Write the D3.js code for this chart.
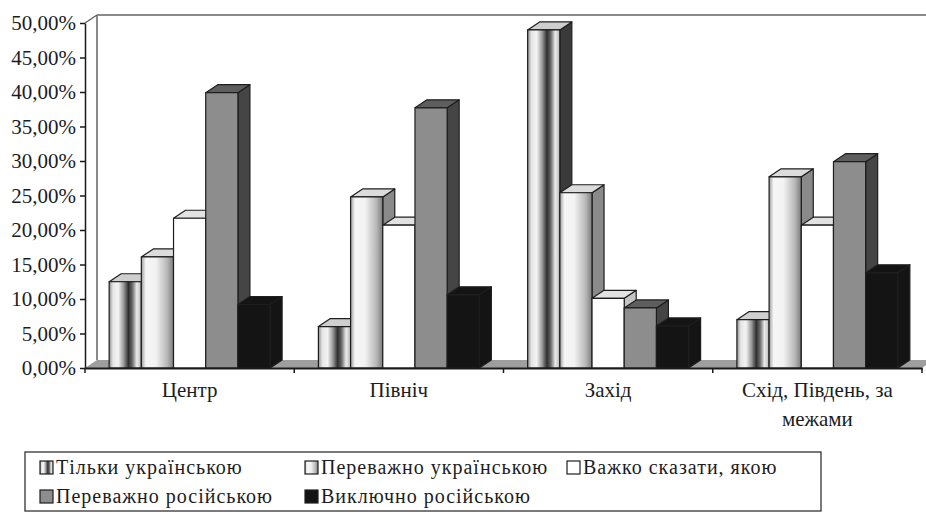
<!DOCTYPE html>
<html>
<head>
<meta charset="utf-8">
<script src="https://cdn.jsdelivr.net/npm/d3@7"></script>
<style>
  body { margin: 0; background: #fff; }
  svg { display: block; }
  svg text { fill: #1c1c1c; }
</style>
</head>
<body>
<svg id="chart" width="926" height="515"></svg>
<script>
// ---- data -------------------------------------------------------------
const categories = ["Центр", "Північ", "Захід", "Схід, Південь, за межами"];
const seriesNames = [
  "Тільки українською",
  "Переважно українською",
  "Важко сказати, якою",
  "Переважно російською",
  "Виключно російською"
];
const onlyUkrainian   = [0.125, 0.060, 0.490, 0.070];
const mostlyUkrainian = [0.161, 0.248, 0.254, 0.277];
const hardToSay       = [0.217, 0.207, 0.101, 0.207];
const mostlyRussian   = [0.399, 0.377, 0.087, 0.299];
const onlyRussian     = [0.092, 0.106, 0.061, 0.138];
const yTickValues = [0, 0.05, 0.10, 0.15, 0.20, 0.25, 0.30, 0.35, 0.40, 0.45, 0.50];

const seriesValues = [onlyUkrainian, mostlyUkrainian, hardToSay, mostlyRussian, onlyRussian];

// ---- layout -----------------------------------------------------------
const svg = d3.select("#chart");
const plot = { left: 85, right: 922, top: 23, bottom: 368 };
const depth = { dx: 12, dy: 8 };   // oblique offset of the 3-D bars
const font = "'Liberation Serif', 'Times New Roman', 'Liberation Sans', serif";

const x = d3.scaleBand().domain(categories).range([plot.left, plot.right]).paddingInner(0).paddingOuter(0);
const xs = d3.scaleBand().domain(seriesNames).range([0, x.bandwidth()]).paddingInner(0).paddingOuter(0.75);
const y = d3.scaleLinear().domain([0, 0.5]).range([plot.bottom, plot.top]);

const uk = d3.formatLocale({ decimal: ",", thousands: "\u00a0", grouping: [3], currency: ["", " ₴"] });
const pct = uk.format(".2%");

// ---- face styles ------------------------------------------------------
const defs = svg.append("defs");
function grad(id, stops) {
  const g = defs.append("linearGradient").attr("id", id)
    .attr("x1", 0).attr("y1", 0).attr("x2", 1).attr("y2", 0);
  stops.forEach(([o, c]) => g.append("stop").attr("offset", o).attr("stop-color", c));
}
grad("g-only-ua", [[0, "#8e8e8e"], [0.12, "#e6e6e6"], [0.28, "#f4f4f4"], [0.45, "#9a9a9a"],
                   [0.6, "#2e2e2e"], [0.72, "#6a6a6a"], [0.86, "#ececec"], [1, "#b4b4b4"]]);
grad("g-mostly-ua", [[0, "#9c9c9c"], [0.14, "#f6f6f6"], [0.45, "#f2f2f2"], [0.8, "#b8b8b8"], [1, "#7c7c7c"]]);

const faceStyle = [
  { front: "url(#g-only-ua)",   top: "#cfcfcf", side: "#3a3a3a" },
  { front: "url(#g-mostly-ua)", top: "#dcdcdc", side: "#8a8a8a" },
  { front: "#ffffff",           top: "#e2e2e2", side: "#c4c4c4" },
  { front: "#8d8d8d",           top: "#5e5e5e", side: "#454545" },
  { front: "#141414",           top: "#141414", side: "#141414" }
];
const edge = "#1e1e1e";

// ---- back wall and floor ----------------------------------------------
svg.append("polygon")
  .attr("points", [[plot.left, plot.bottom], [plot.right, plot.bottom],
                   [plot.right + depth.dx, plot.bottom - depth.dy], [plot.left + depth.dx, plot.bottom - depth.dy]].join(" "))
  .attr("fill", "#9e9e9e");

const wall = svg.append("g").attr("fill", "none").attr("stroke", "#8a8a8a").attr("stroke-width", 2);
wall.append("line")
  .attr("x1", plot.left + depth.dx).attr("x2", plot.left + depth.dx)
  .attr("y1", plot.top - depth.dy).attr("y2", plot.bottom - depth.dy);
wall.append("line")
  .attr("x1", plot.left + depth.dx).attr("x2", plot.right + depth.dx)
  .attr("y1", plot.top - depth.dy).attr("y2", plot.top - depth.dy);
wall.append("line")
  .attr("x1", plot.left).attr("x2", plot.left + depth.dx)
  .attr("y1", plot.top).attr("y2", plot.top - depth.dy)
  .attr("stroke", "#555").attr("stroke-width", 1.2);

// ---- bars -------------------------------------------------------------
const bars = svg.append("g").attr("stroke", edge).attr("stroke-width", 1.2).attr("stroke-linejoin", "round");
categories.forEach((cat, ci) => {
  seriesNames.forEach((name, si) => {
    const v = seriesValues[si][ci];
    const x0 = x(cat) + xs(name), w = xs.bandwidth();
    const y0 = y(0), y1 = y(v);
    const st = faceStyle[si];
    const g = bars.append("g");
    g.append("polygon")
      .attr("points", [[x0 + w, y1], [x0 + w + depth.dx, y1 - depth.dy],
                       [x0 + w + depth.dx, y0 - depth.dy], [x0 + w, y0]].join(" "))
      .attr("fill", st.side);
    g.append("polygon")
      .attr("points", [[x0, y1], [x0 + depth.dx, y1 - depth.dy],
                       [x0 + w + depth.dx, y1 - depth.dy], [x0 + w, y1]].join(" "))
      .attr("fill", st.top);
    g.append("rect")
      .attr("x", x0).attr("y", y1).attr("width", w).attr("height", y0 - y1)
      .attr("fill", st.front);
  });
});

// ---- axes -------------------------------------------------------------
const yAxis = svg.append("g")
  .attr("transform", `translate(${plot.left},0)`)
  .call(d3.axisLeft(y).tickValues(yTickValues).tickFormat(pct).tickSize(5).tickSizeOuter(0).tickPadding(4))
  .attr("font-family", font).attr("font-size", 21);
yAxis.select(".domain").attr("stroke", "#1a1a1a").attr("stroke-width", 1.5);
yAxis.selectAll(".tick line").attr("stroke", "#1a1a1a").attr("stroke-width", 1.5);
yAxis.selectAll("text").attr("fill", "#1c1c1c");

const xAxis = svg.append("g")
  .attr("transform", `translate(0,${plot.bottom})`)
  .call(d3.axisBottom(x).tickSize(0).tickSizeOuter(0).tickPadding(14))
  .attr("font-family", font).attr("font-size", 21);
xAxis.select(".domain").attr("stroke", "#1a1a1a").attr("stroke-width", 1.8);
xAxis.selectAll("text").attr("fill", "#1c1c1c").attr("dy", "0.71em").call(wrap, 185);

// boundary ticks between categories
svg.append("g").selectAll("line")
  .data([...categories.map(c => x(c)), plot.right])
  .join("line")
  .attr("x1", d => d).attr("x2", d => d)
  .attr("y1", plot.bottom).attr("y2", plot.bottom + 5)
  .attr("stroke", "#1a1a1a").attr("stroke-width", 1.5);

function wrap(sel, width) {
  sel.each(function () {
    const t = d3.select(this);
    const words = t.text().split(/\s+/);
    const yy = t.attr("y"), dy = t.attr("dy");
    t.text(null);
    let line = [], lineNo = 0;
    let ts = t.append("tspan").attr("x", 0).attr("y", yy).attr("dy", dy);
    words.forEach(wd => {
      line.push(wd);
      ts.text(line.join(" "));
      if (ts.node().getComputedTextLength() > width && line.length > 1) {
        line.pop();
        ts.text(line.join(" "));
        line = [wd];
        lineNo++;
        ts = t.append("tspan").attr("x", 0).attr("y", yy)
          .attr("dy", (lineNo * 1.4 + 0.71) + "em").text(wd);
      }
    });
  });
}

// ---- legend -----------------------------------------------------------
const legend = svg.append("g").attr("font-family", font).attr("font-size", 20).attr("letter-spacing", 1);
legend.append("rect")
  .attr("x", 25).attr("y", 452).attr("width", 796).attr("height", 59)
  .attr("fill", "#fff").attr("stroke", "#333").attr("stroke-width", 1.3);
const legendPos = [[40, 474], [305, 474], [567, 474], [40, 503], [305, 503]];
seriesNames.forEach((name, i) => {
  const [lx, ly] = legendPos[i];
  const it = legend.append("g").attr("transform", `translate(${lx},${ly})`);
  it.append("rect").attr("x", 0).attr("y", -13).attr("width", 13).attr("height", 13)
    .attr("fill", faceStyle[i].front).attr("stroke", edge).attr("stroke-width", 1.2);
  it.append("text").attr("x", 16).attr("y", 0).text(name);
});
</script>
</body>
</html>
